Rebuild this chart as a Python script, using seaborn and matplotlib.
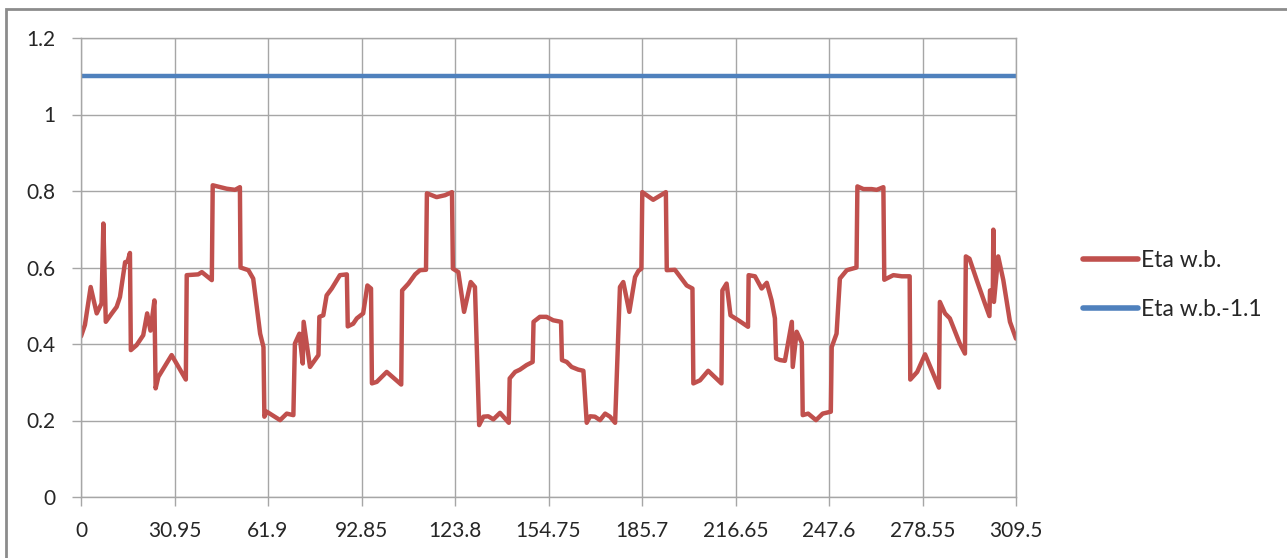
import matplotlib
matplotlib.use("Agg")
import matplotlib.pyplot as plt
import matplotlib.patches as mpatches
import numpy as np
import pandas as pd
import seaborn as sns

# Efficiency trace sampled along the cycle
eta_x = [
    0.0, 1.3, 3.2, 5.2, 6.8, 7.4, 8.2, 10.2, 11.8, 12.9, 14.6, 15.4, 16.2, 16.5,
    18.4, 20.6, 21.9, 23.0, 24.3, 24.7, 25.6, 30.0, 34.7, 35.0, 38.8, 40.0,
    43.3, 43.6, 48.2, 51.0, 52.6, 52.8, 55.4, 57.0, 59.3, 60.4, 60.7, 61.5,
    65.9, 68.1, 70.3, 70.8, 72.3, 73.4, 73.7, 75.8, 78.6, 78.9, 80.2, 81.3,
    83.0, 85.7, 88.0, 88.3, 90.1, 91.3, 93.4, 94.8, 96.0, 96.3, 97.9, 101.2,
    106.0, 106.3, 108.4, 110.6, 112.2, 114.2, 114.5, 117.7, 120.5, 122.8,
    123.1, 124.9, 126.8, 129.0, 130.4, 131.8, 133.2, 134.8, 136.5, 138.7,
    139.8, 141.6, 141.9, 143.7, 145.3, 147.5, 149.5, 149.8, 151.9, 154.1,
    156.3, 158.9, 159.2, 160.8, 162.4, 164.6, 166.3, 167.4, 168.5, 170.1,
    171.8, 173.5, 175.1, 176.8, 178.4, 179.5, 181.5, 183.4, 184.5, 185.5,
    185.8, 189.4, 193.6, 193.9, 196.6, 198.8, 200.5, 202.4, 202.7, 204.9,
    207.6, 212.0, 212.3, 213.7, 215.0, 217.6, 220.8, 221.0, 223.1, 225.3,
    227.0, 228.6, 229.7, 230.1, 231.4, 233.0, 235.3, 235.6, 236.9, 238.6,
    238.9, 240.7, 243.3, 245.5, 248.2, 248.5, 250.1, 251.2, 253.5, 256.7,
    257.0, 259.0, 261.7, 263.4, 265.6, 265.9, 268.9, 271.7, 274.3, 274.5,
    276.8, 279.4, 284.0, 284.3, 286.0, 287.6, 290.9, 292.6, 292.9, 294.1,
    296.5, 299.2, 300.7, 300.9, 301.8, 302.0, 302.2, 303.6, 305.3, 307.5,
    309.5,
]
eta_y = [
    0.420, 0.450, 0.549, 0.480, 0.506, 0.715, 0.458, 0.480, 0.497, 0.523, 0.614, 0.615, 0.638, 0.384,
    0.397, 0.423, 0.480, 0.435, 0.514, 0.284, 0.314, 0.371, 0.307, 0.580, 0.582, 0.588,
    0.567, 0.815, 0.806, 0.803, 0.810, 0.600, 0.593, 0.571, 0.427, 0.392, 0.210, 0.223,
    0.201, 0.218, 0.214, 0.401, 0.427, 0.349, 0.458, 0.340, 0.371, 0.471, 0.475, 0.527,
    0.545, 0.580, 0.582, 0.446, 0.453, 0.467, 0.480, 0.553, 0.545, 0.297, 0.301, 0.327,
    0.294, 0.540, 0.558, 0.582, 0.593, 0.594, 0.794, 0.784, 0.789, 0.797,
    0.597, 0.588, 0.484, 0.562, 0.549, 0.188, 0.210, 0.211, 0.203, 0.220,
    0.210, 0.194, 0.310, 0.327, 0.333, 0.345, 0.353, 0.458, 0.471, 0.471,
    0.462, 0.458, 0.358, 0.353, 0.340, 0.333, 0.330, 0.194, 0.211, 0.210,
    0.201, 0.218, 0.210, 0.194, 0.549, 0.562, 0.484, 0.575, 0.591, 0.597,
    0.797, 0.777, 0.797, 0.593, 0.594, 0.571, 0.553, 0.545, 0.297, 0.305,
    0.330, 0.297, 0.540, 0.558, 0.475, 0.462, 0.445, 0.580, 0.577, 0.545,
    0.560, 0.514, 0.467, 0.362, 0.358, 0.356, 0.458, 0.340, 0.432, 0.403,
    0.214, 0.218, 0.201, 0.218, 0.223, 0.392, 0.427, 0.571, 0.593, 0.600,
    0.812, 0.805, 0.805, 0.803, 0.810, 0.568, 0.580, 0.577, 0.577, 0.307,
    0.327, 0.373, 0.286, 0.510, 0.480, 0.467, 0.401, 0.375, 0.629, 0.623,
    0.567, 0.506, 0.473, 0.540, 0.514, 0.699, 0.510, 0.629, 0.567, 0.458,
    0.414,
]

# Constant reference level
ref_x = [0.0, 309.5]
ref_y = [1.1, 1.1]

series_names = ["Eta w.b.", "Eta w.b.-1.1"]
series_colors = ["#C0504D", "#4F81BD"]

x_ticks = [0, 30.95, 61.9, 92.85, 123.8, 154.75, 185.7, 216.65, 247.6, 278.55, 309.5]
x_tick_labels = ["0", "30.95", "61.9", "92.85", "123.8", "154.75", "185.7",
                 "216.65", "247.6", "278.55", "309.5"]
y_ticks = [0, 0.2, 0.4, 0.6, 0.8, 1.0, 1.2]
y_tick_labels = ["0", "0.2", "0.4", "0.6", "0.8", "1", "1.2"]

df = pd.concat([
    pd.DataFrame({"x": eta_x, "value": eta_y, "series": series_names[0]}),
    pd.DataFrame({"x": ref_x, "value": ref_y, "series": series_names[1]}),
], ignore_index=True)

sns.set_theme(style="white")
plt.rcParams["font.family"] = ["Lato", "DejaVu Sans"]

W, H = 1287, 558
fig = plt.figure(figsize=(W / 100, H / 100), dpi=100)
fig.patch.set_facecolor("white")

# outer chart frame (runs off the right and bottom edges)
frame = mpatches.Rectangle((6 / W, -0.05), 1.1, 1 - 9 / H + 0.05,
                           transform=fig.transFigure, fill=False,
                           edgecolor="#8c8c8c", linewidth=2.0, zorder=0)
fig.patches.append(frame)

left, right, top, bottom = 81, 1016, 38, 497
ax = fig.add_axes([left / W, 1 - bottom / H, (right - left) / W, (bottom - top) / H])
ax.set_facecolor("white")

sns.lineplot(data=df, x="x", y="value", hue="series", hue_order=series_names,
             palette=series_colors, sort=False, estimator=None,
             linewidth=3.2, ax=ax, legend=True)

ax.set_xlim(0, 309.5)
ax.set_ylim(0, 1.2)
ax.set_xticks(x_ticks)
ax.set_xticklabels(x_tick_labels)
ax.set_yticks(y_ticks)
ax.set_yticklabels(y_tick_labels)
ax.set_xlabel("")
ax.set_ylabel("")

grid_color = "#a6a6a6"
ax.grid(True, color=grid_color, linewidth=1.0)
ax.set_axisbelow(True)
for side in ["top", "right", "left", "bottom"]:
    ax.spines[side].set_visible(True)
    ax.spines[side].set_color(grid_color)
    ax.spines[side].set_linewidth(1.0)

ax.tick_params(axis="both", which="both", direction="out", length=6.5,
               width=1.0, color=grid_color, labelsize=15, labelcolor="#262626",
               bottom=True, left=True, top=False, right=False)
ax.tick_params(axis="x", pad=11)
ax.tick_params(axis="y", pad=12)

handles, labels = ax.get_legend_handles_labels()
ax.get_legend().remove()
for h in handles:
    h.set_linewidth(4)
fig.legend(handles, labels, loc="center left",
           bbox_to_anchor=(1083 / W, 1 - 285 / H), frameon=False,
           fontsize=16.5, handlelength=2.4, handletextpad=0.15,
           labelspacing=1.2, borderpad=0, borderaxespad=0,
           labelcolor="#262626")

fig.savefig("out.png", dpi=100, facecolor="white")
